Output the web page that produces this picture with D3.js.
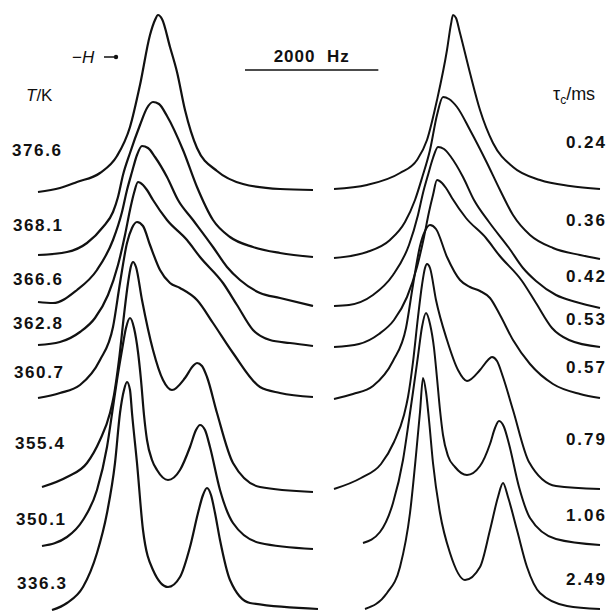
<!DOCTYPE html>
<html>
<head>
<meta charset="utf-8">
<script src="https://cdn.jsdelivr.net/npm/d3@7.9.0/dist/d3.min.js"></script>
<style>
  body { margin: 0; background: #fff; }
  svg { display: block; }
  text { font-family: "Liberation Sans", Arial, sans-serif; fill: #111; }
</style>
</head>
<body>
<svg id="chart" width="613" height="611"></svg>
<script>
// temperatures (left, experimental) and correlation times (right, simulated)
const temperatures = ['376.6', '368.1', '366.6', '362.8', '360.7', '355.4', '350.1', '336.3'];
const corrTimes = ['0.24', '0.36', '0.42', '0.53', '0.57', '0.79', '1.06', '2.49'];

// stacking offset of each trace baseline (a.u.)
const expOffsets = [428, 365, 318, 275, 222, 133, 74, 10];
const simOffsets = [431, 361, 312, 273, 221, 131, 75, 11];

// spectra: [field offset in Hz, intensity a.u.]
const exp3766 = [[0,0],[330,4],[585,10],[930,19],[1185,36],[1380,65],[1530,107],[1680,157],[1755,172],[1800,177],[1860,173],[1980,145],[2085,120],[2205,82],[2385,44],[2685,21],[3075,8],[3630,3],[4125,2]];
const exp3681 = [[0,0],[435,3],[735,12],[975,28],[1125,43],[1200,58],[1275,80],[1380,102],[1530,130],[1635,147],[1725,153],[1815,151],[1935,139],[2175,105],[2385,68],[2625,35],[2880,18],[3225,8],[3630,2],[4125,-2]];
const exp3666 = [[0,0],[225,-1],[585,12],[885,32],[1125,62],[1260,90],[1335,112],[1410,130],[1485,147],[1560,156],[1650,154],[1755,145],[1935,125],[2100,102],[2325,82],[2625,55],[2835,35],[3030,22],[3330,9],[3630,4],[4125,-4]];
const exp3628 = [[0,0],[330,3],[630,13],[855,27],[1050,50],[1200,80],[1305,110],[1380,135],[1440,152],[1500,163],[1575,160],[1635,155],[1725,145],[1935,125],[2235,105],[2430,88],[2775,62],[2985,40],[3225,15],[3480,5],[3780,2],[4125,-1]];
const exp3607 = [[0,0],[330,5],[630,13],[930,38],[1125,71],[1230,115],[1335,155],[1410,170],[1485,176],[1575,172],[1680,153],[1830,128],[1980,115],[2130,110],[2385,98],[2625,75],[2925,45],[3330,11],[3630,5],[4125,1]];
const exp3554 = [[60,0],[435,10],[735,24],[930,47],[1080,74],[1140,92],[1215,127],[1290,172],[1350,204],[1395,221],[1425,225],[1470,220],[1560,187],[1725,137],[1875,107],[2010,97],[2205,109],[2325,121],[2385,124],[2460,121],[2535,110],[2685,74],[2925,24],[3330,0],[4125,-5]];
const exp3501 = [[60,0],[435,9],[675,26],[885,56],[1035,99],[1125,139],[1185,166],[1260,196],[1320,218],[1380,228],[1440,218],[1500,194],[1545,166],[1590,131],[1635,106],[1710,86],[1785,76],[1950,66],[2130,76],[2280,99],[2370,116],[2430,121],[2505,116],[2580,99],[2730,56],[2925,23],[3330,3],[4125,-3]];
const exp3363 = [[210,0],[435,7],[675,23],[885,57],[1035,97],[1155,147],[1230,197],[1290,220],[1335,228],[1380,220],[1410,197],[1485,147],[1575,80],[1725,40],[1950,23],[2130,33],[2280,63],[2400,97],[2475,115],[2535,122],[2595,115],[2655,97],[2730,70],[2880,30],[3180,7],[4200,1]];

const sim024 = [[0,0],[495,4],[990,16],[1245,29],[1395,49],[1545,89],[1695,139],[1755,165],[1785,174],[1830,171],[1890,156],[2040,116],[2190,79],[2385,46],[2685,22],[3090,9],[3540,3],[3990,0]];
const sim036 = [[0,1],[495,7],[840,19],[1065,37],[1215,59],[1320,81],[1440,109],[1545,144],[1635,162],[1725,160],[1845,152],[2040,129],[2295,96],[2490,69],[2685,44],[2940,24],[3285,11],[3690,4],[3990,0]];
const sim042 = [[0,2],[225,3],[585,13],[885,33],[1125,63],[1260,93],[1335,115],[1410,133],[1485,150],[1560,161],[1650,159],[1755,151],[1935,131],[2100,108],[2325,86],[2625,60],[2835,40],[3030,27],[3330,13],[3630,6],[3990,0]];
const sim053 = [[0,0],[375,3],[675,13],[900,27],[1095,50],[1245,80],[1350,110],[1425,135],[1485,152],[1545,167],[1620,164],[1680,159],[1770,149],[1980,129],[2280,109],[2475,92],[2820,66],[3030,44],[3270,19],[3525,7],[3990,0]];
const sim057 = [[0,0],[285,5],[585,13],[885,38],[1080,71],[1185,114],[1290,153],[1365,168],[1440,174],[1530,170],[1695,142],[1890,119],[2040,112],[2190,108],[2340,101],[2490,84],[2685,59],[2940,35],[3285,15],[3690,5],[3990,1]];
const sim079 = [[0,0],[405,11],[705,25],[900,47],[1050,74],[1110,92],[1185,127],[1260,172],[1320,204],[1365,221],[1395,225],[1440,221],[1530,189],[1695,149],[1860,119],[1995,108],[2190,119],[2310,129],[2370,132],[2445,128],[2535,112],[2685,79],[2925,27],[3330,3],[3990,0]];
const sim106 = [[435,2],[690,13],[885,42],[1035,85],[1125,125],[1185,153],[1260,189],[1320,218],[1380,232],[1440,221],[1500,197],[1545,167],[1590,135],[1635,110],[1710,89],[1815,78],[1995,70],[2190,79],[2340,101],[2415,117],[2475,124],[2550,118],[2625,101],[2775,58],[2940,27],[3330,6],[3990,0]];
const sim249 = [[465,0],[795,16],[990,42],[1140,96],[1230,154],[1290,197],[1335,231],[1380,217],[1425,189],[1485,146],[1590,96],[1740,56],[1965,29],[2190,42],[2340,79],[2460,112],[2535,126],[2610,112],[2745,79],[2895,42],[3090,16],[3495,3],[3990,0]];

const expSpectra = [exp3766, exp3681, exp3666, exp3628, exp3607, exp3554, exp3501, exp3363];
const simSpectra = [sim024, sim036, sim042, sim053, sim057, sim079, sim106, sim249];

const scaleBarHz = 2000;

// layout
const tempLabelY = [150, 225, 279, 323, 372, 443, 519, 583];
const tempLabelX = [12, 13, 13, 13, 14, 15, 16, 17];
const tauLabelY = [142, 220, 276, 319, 367, 439, 515, 579];

const svg = d3.select('#chart');

const xExp = d3.scaleLinear().domain([0, 4125]).range([38, 313]);
const xSim = d3.scaleLinear().domain([0, 4125]).range([334, 609]);
const y = d3.scaleLinear().domain([0, 620]).range([620, 0]);

function traceLine(xScale, offset) {
  return d3.line()
    .x(d => xScale(d[0]))
    .y(d => y(offset + d[1]))
    .curve(d3.curveMonotoneX);
}

// experimental traces
svg.append('g')
  .selectAll('path')
  .data(expSpectra)
  .join('path')
  .attr('d', (d, i) => traceLine(xExp, expOffsets[i])(d))
  .attr('fill', 'none')
  .attr('stroke', '#111')
  .attr('stroke-width', 2.2)
  .attr('stroke-linejoin', 'round');

// simulated traces
svg.append('g')
  .selectAll('path')
  .data(simSpectra)
  .join('path')
  .attr('d', (d, i) => traceLine(xSim, simOffsets[i])(d))
  .attr('fill', 'none')
  .attr('stroke', '#111')
  .attr('stroke-width', 2)
  .attr('stroke-linejoin', 'round');

// temperature labels
svg.append('g')
  .selectAll('text')
  .data(temperatures)
  .join('text')
  .attr('x', (d, i) => tempLabelX[i])
  .attr('y', (d, i) => tempLabelY[i])
  .attr('dy', '0.36em')
  .attr('font-size', 17)
  .attr('font-weight', 'bold')
  .attr('letter-spacing', 1.6)
  .text(d => d);

// correlation time labels
svg.append('g')
  .selectAll('text')
  .data(corrTimes)
  .join('text')
  .attr('x', 607)
  .attr('y', (d, i) => tauLabelY[i])
  .attr('dy', '0.36em')
  .attr('text-anchor', 'end')
  .attr('font-size', 17)
  .attr('font-weight', 'bold')
  .attr('letter-spacing', 2)
  .text(d => d);

// axis titles
const tk = svg.append('text').attr('x', 26).attr('y', 101).attr('font-size', 17);
tk.append('tspan').attr('font-style', 'italic').text('T');
tk.append('tspan').text('/K');

const tau = svg.append('text').attr('x', 553).attr('y', 100).attr('font-size', 18);
tau.append('tspan').text('τ');
tau.append('tspan').attr('font-size', 12).attr('dy', 4).text('c');
tau.append('tspan').attr('dy', -4).text('/ms');

// field direction
const hdir = svg.append('text').attr('x', 72).attr('y', 63).attr('font-size', 17);
hdir.append('tspan').text('−');
hdir.append('tspan').attr('font-style', 'italic').text('H');
svg.append('line')
  .attr('x1', 104).attr('x2', 114)
  .attr('y1', 57).attr('y2', 57)
  .attr('stroke', '#111').attr('stroke-width', 1.5);
svg.append('circle')
  .attr('cx', 116).attr('cy', 57).attr('r', 2.2)
  .attr('fill', '#111');

// scale bar
const barStart = 3105;
svg.append('line')
  .attr('x1', xExp(barStart))
  .attr('x2', xExp(barStart + scaleBarHz))
  .attr('y1', 70).attr('y2', 70)
  .attr('stroke', '#111').attr('stroke-width', 1.6);
svg.append('text')
  .attr('x', (xExp(barStart) + xExp(barStart + scaleBarHz)) / 2)
  .attr('y', 62)
  .attr('text-anchor', 'middle')
  .attr('font-size', 17)
  .attr('font-weight', 'bold')
  .attr('letter-spacing', 1)
  .attr('xml:space', 'preserve')
  .text(scaleBarHz + '  Hz');
</script>
</body>
</html>
